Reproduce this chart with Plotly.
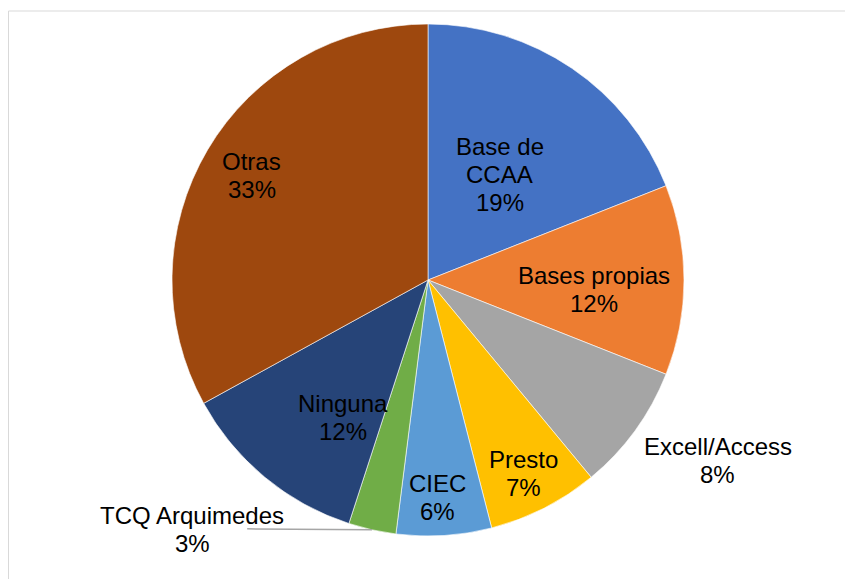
import math
import plotly.graph_objects as go

# ---- data ----
categories = ["Base de CCAA", "Bases propias", "Excell/Access", "Presto", "CIEC",
              "TCQ Arquimedes", "Ninguna", "Otras"]
label_lines = [["Base de", "CCAA"], ["Bases propias"], ["Excell/Access"], ["Presto"], ["CIEC"],
               ["TCQ Arquimedes"], ["Ninguna"], ["Otras"]]
values = [19, 12, 8, 7, 6, 3, 12, 33]
colors = ["#4472C4", "#ED7D31", "#A5A5A5", "#FFC000", "#5B9BD5",
          "#70AD47", "#264478", "#9E480E"]

# ---- layout geometry (page pixels; the page body has an 8px margin) ----
W, H = 853, 579
OFF = 8
CX, CY, R = 428, 280, 256
LINE_H = 28
# label placement: (radius fraction, extra dx px, extra dy px)
label_place = [(0.50, 0, 0), (0.65, 0, 9), (1.40, 0, -30), (0.85, -3, 0), (0.85, -4, 0),
               (1.00, -180, 0), (0.63, 18, 13), (0.80, 0, 0)]


def fx(px):
    return (px - OFF) / W


def fy(py):
    return 1 - (py - OFF) / H


fig = go.Figure()
fig.add_trace(go.Pie(
    labels=categories, values=values, sort=False, direction="clockwise", rotation=0,
    marker=dict(colors=colors, line=dict(color="white", width=0.6)),
    textinfo="none", hoverinfo="label+percent", showlegend=False,
    domain=dict(x=[fx(CX - R), fx(CX + R)], y=[fy(CY + R), fy(CY - R)]),
))

total = sum(values)
cum = 0
annotations = []
shapes = []
for i, v in enumerate(values):
    mid = (cum + v / 2) / total * 2 * math.pi
    cum += v
    rf, ddx, ddy = label_place[i]
    px = CX + math.sin(mid) * R * rf + ddx
    py = CY - math.cos(mid) * R * rf + ddy
    pct = round(v / total * 100)
    lines = label_lines[i] + [f"{pct}%"]
    n = len(lines)
    for k, line in enumerate(lines):
        ly = py + (k - (n - 1) / 2) * LINE_H
        annotations.append(dict(
            x=fx(px), y=fy(ly), xref="paper", yref="paper",
            text=line, showarrow=False,
            font=dict(family="Arial, Liberation Sans, sans-serif", size=24, color="#000000"),
            xanchor="center", yanchor="middle", align="center",
        ))
    if categories[i] == "TCQ Arquimedes":
        ex = CX + math.sin(mid) * R
        ey = CY - math.cos(mid) * R
        shapes.append(dict(type="line", xref="paper", yref="paper",
                           x0=fx(px + 55), y0=fy(py - 1),
                           x1=fx(ex), y1=fy(ey),
                           line=dict(color="#A6A6A6", width=1.5)))

# chart frame
shapes.append(dict(type="rect", xref="paper", yref="paper",
                   x0=0.5 / W, y0=-0.05, x1=1.05, y1=fy(11),
                   line=dict(color="#D9D9D9", width=1), fillcolor="rgba(0,0,0,0)", layer="below"))

fig.update_layout(
    width=W, height=H, margin=dict(l=0, r=0, t=0, b=0),
    paper_bgcolor="white", plot_bgcolor="white",
    annotations=annotations, shapes=shapes,
)
fig.write_html("out.html")
